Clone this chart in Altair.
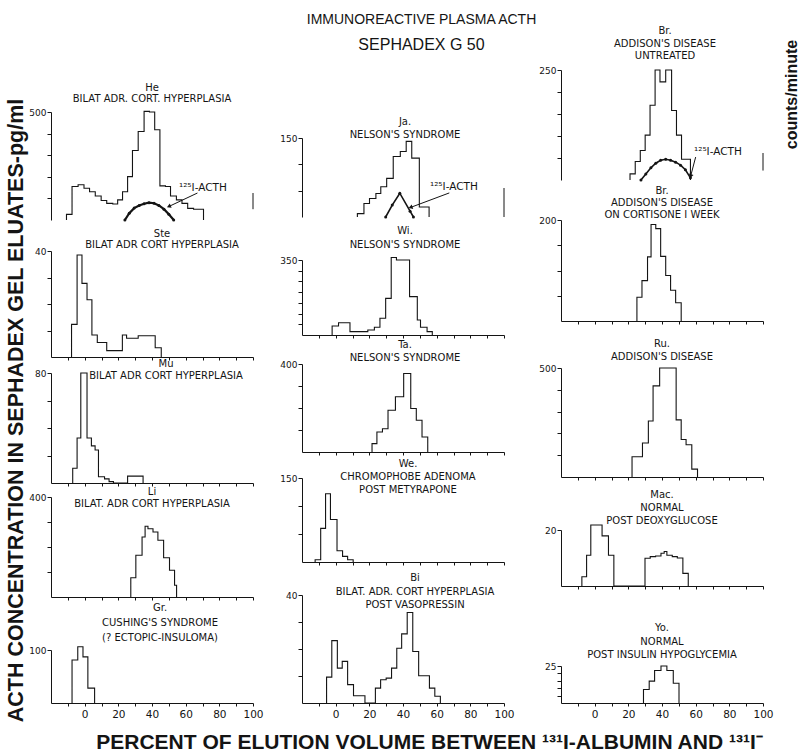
import altair as alt
import pandas as pd

TXT = "DejaVu Sans"
BOLD = "Liberation Sans"
INK = "#141414"
PW = 202          # panel plot width
H = 141           # grid row height (five rows)
XS = alt.Scale(domain=[-20, 100], nice=False, zero=False)
XTICKS = list(range(-10, 101, 10))

# ---------------- data (elution %, concentration) -------------
he_edges = [-10.8, -7.5, -3.9, -0.4, 2.9, 6.3, 9.8, 13.1, 16.7, 19.6, 22.5, 25.5, 28.4,
            31.8, 35.3, 38.5, 41.6, 44.7, 48.0, 51.0, 54.5, 57.8, 61.2, 64.7, 70.6]
he_vals = [26, 155, 163, 147, 131, 111, 90, 77, 74, 93, 131, 201, 322, 410, 503, 500,
           418, 158, 155, 111, 93, 77, 54, 50]
ste_edges = [-7.8, -4.5, -1.6, 1.4, 4.3, 7.5, 13.1, 22.4, 24.9, 31.8, 41.9, 45.5]
ste_vals = [12.3, 38.5, 27.8, 21.6, 8.3, 5.5, 2.4, 8.3, 7.1, 8.0, 3.5]
mu_edges = [-7.1, -4.5, -2.3, 1.4, 4.0, 6.2, 8.2, 11.8, 14.5, 17.1, 25.5, 34.7]
mu_vals = [10.7, 32.7, 80, 32.7, 27, 24, 4.6, 3.0, 1.0, 0, 5.0]
li_edges = [27.4, 30.4, 34.1, 35.9, 37.6, 40.6, 43.5, 46.9, 50.4, 53.4, 54.6]
li_vals = [77, 167, 240, 283, 273, 260, 227, 157, 107, 47]
gr_edges = [-7.5, -4.1, -1.0, 1.9, 5.9]
gr_vals = [81, 106, 87, 28]

ja_edges = [12.9, 16.8, 20.1, 23.9, 26.8, 30.3, 34.2, 38.4, 41.9, 45.2, 49.7, 55.5]
ja_vals = [6.4, 25.5, 35, 44.7, 57.4, 73.4, 115, 124.5, 143.6, 111.7, 19]
wi_edges = [-2.1, 1.7, 8.5, 19.1, 23.0, 26.3, 29.7, 33.0, 36.1, 40.4, 43.9, 48.5, 50.4, 54.3, 57.4]
wi_vals = [42, 57.5, 15.6, 23, 36, 78, 171, 362, 350, 350, 179, 70, 36, 15.6]
ta_edges = [21.6, 24.5, 27.8, 31.1, 35.5, 40.4, 44.6, 47.9, 51.3, 54.7]
ta_vals = [38, 91, 106, 190, 251, 357, 198, 144, 68]
we_edges = [-12.2, -8.9, -6.0, -3.1, 0.8, 4.1, 7.1, 10.4]
we_vals = [4, 60, 122, 76, 20, 10, 4]
bi_edges = [-5.4, -2.3, 1.0, 3.9, 7.1, 10.6, 17.4, 23.6, 26.7, 30.0, 33.2, 36.3, 39.2,
            42.5, 45.8, 49.3, 55.7, 58.9, 62.2]
bi_vals = [9.6, 23.1, 12.9, 15.4, 6.8, 2.7, 0, 5.5, 8.6, 9.2, 12.9, 20.3, 25.6, 33.5,
           19.1, 10.1, 5.5, 2.5]

br_edges = [21.0, 24.1, 27.1, 30.0, 32.9, 35.9, 38.8, 42.2, 45.7, 48.6, 51.6, 56.9]
br_vals = [14, 42, 67, 102, 170, 250, 223, 250, 158, 102, 47]
brc_edges = [25.1, 28.1, 31.4, 33.5, 36.3, 39.2, 42.2, 45.1, 48.1, 51.4]
brc_vals = [47, 80, 127, 191, 183, 128, 90, 61, 36]
ru_edges = [22.2, 28.4, 31.9, 34.7, 38.6, 48.4, 51.4, 54.3, 57.7, 61.1]
ru_vals = [93, 156, 257, 418, 500, 262, 172, 148, 36]
mac_edges = [-7.6, -4.8, -2.3, 4.4, 8.2, 11.4, 29.9, 33.0, 36.2, 39.4, 41.3, 42.9,
             46.1, 49.1, 52.4, 55.6]
mac_vals = [3.3, 11, 21.8, 17.9, 11, 0, 9.9, 10.5, 10.7, 11.7, 12.3, 11, 10.5, 10, 4.5]
yo_edges = [29.0, 32.4, 35.6, 39.4, 42.9, 46.7, 50.1]
yo_vals = [9.1, 14.8, 22, 25, 22, 13.3]

# 125I-ACTH marker curves (counts/minute)
he_acth_x = [23.9, 26.5, 29.4, 32.4, 35.3, 38.2, 41.2, 44.1, 47.1, 50.0, 52.9]
he_acth_y = [0, 25, 44, 54, 60, 64, 62, 54, 40, 21, 0]
ja_acth_x = [29.7, 33.6, 38.1, 44.2, 46.2]
ja_acth_y = [0, 41, 82, 20, 0]
br_acth_x = [27.5, 30.4, 33.4, 36.3, 39.2, 42.2, 45.1, 48.1, 51.0, 53.9, 56.9]
br_acth_y = [0, 22, 45, 62, 73, 77, 73, 66, 55, 38, 8]

ACTH_LABEL = "\u00b9\u00b2\u2075I-ACTH"
Y_TITLE = "ACTH CONCENTRATION IN SEPHADEX GEL ELUATES-pg/ml"
X_TITLE = "PERCENT OF ELUTION VOLUME BETWEEN \u00b9\u00b3\u00b9I-ALBUMIN AND \u00b9\u00b3\u00b9I\u207b"


def step_df(edges, vals):
    xs = [edges[0]] + list(edges)
    ys = [0] + list(vals) + [0]
    return pd.DataFrame({"x": xs, "y": ys, "i": list(range(len(xs)))})


def spacer(w, title=None):
    c = alt.Chart(pd.DataFrame({"s": [0]})).mark_point(opacity=0).encode(
        x=alt.X("s:Q", axis=None), y=alt.Y("s:Q", axis=None))
    if title is not None:
        return c.properties(width=w, height=H, title=title)
    return c.properties(width=w, height=H)


def acth_layer(a, base):
    ss = alt.Scale(domain=[0, 100], range=[base, base - a["px100"]], nice=False, zero=True)
    cdf = pd.DataFrame({"x": a["x"], "y": a["y"]})
    xe = alt.X("x:Q", scale=XS, axis=None)
    curve = alt.Chart(cdf).mark_line(color=INK, strokeWidth=a.get("sw", 1.6)).encode(
        x=xe,
        y=alt.Y("y:Q", scale=ss, axis=alt.Axis(orient="right", values=[100], domain=False,
                                                 tickSize=4, tickColor=INK, labelColor=INK,
                                                 labelFont=TXT, labelFontSize=9, labelPadding=2,
                                                 grid=False, title=None, labelFlush=False)))
    dots = alt.Chart(cdf).mark_circle(color=INK, size=9, opacity=1).encode(
        x=xe, y=alt.Y("y:Q", scale=ss, axis=None))
    rdf = pd.DataFrame({"x": [100], "y": [a["lo"]], "y2": [100]})
    rule = alt.Chart(rdf).mark_rule(color=INK, strokeWidth=1).encode(
        x=xe, y=alt.Y("y:Q", scale=ss, axis=None), y2="y2:Q")
    ldf = pd.DataFrame({"x": [a["lx"]], "y": [a["ly"]], "t": [ACTH_LABEL]})
    lab = alt.Chart(ldf).mark_text(align="left", baseline="middle", font=TXT, fontSize=10.5,
                                   color=INK).encode(
        x=xe, y=alt.Y("y:Q", scale=ss, axis=None), text="t:N")
    adf = pd.DataFrame({"x": [a["ax"]], "y": [a["ay"]], "x2": [a["bx"]], "y2": [a["by"]]})
    arrow = alt.Chart(adf).mark_rule(color=INK, strokeWidth=1).encode(
        x=xe, y=alt.Y("y:Q", scale=ss, axis=None), x2="x2:Q", y2="y2:Q")
    hdf = pd.DataFrame({"x": [a["bx"]], "y": [a["by"]]})
    head = alt.Chart(hdf).mark_point(shape="triangle-up", filled=True, size=22, color=INK,
                                     opacity=1, angle=a["ang"]).encode(
        x=xe, y=alt.Y("y:Q", scale=ss, axis=None))
    return alt.layer(curve, dots, rule, lab, arrow, head)


def panel(p, row):
    y0 = H * row
    base, top = p["base"] - y0, p["top"] - y0
    bottom = p.get("bottom", False)
    ymax = p["ymax"]
    yax = alt.Axis(values=p["ticks"], labelExpr=f"datum.value == {ymax} ? '{ymax}' : ''",
                   tickSize=4, labelFontSize=9, labelPadding=1, grid=False, title=None,
                   domainColor=INK, tickColor=INK, labelColor=INK, labelFont=TXT,
                   labelFlush=False, labelOverlap=False)
    common = dict(values=XTICKS, tickSize=3, grid=False, title=None, domainColor=INK,
                  tickColor=INK, offset=base - H)
    if bottom:
        xax = alt.Axis(labelExpr="datum.value >= 0 && datum.value % 20 == 0 ? datum.label : ''",
                       labelFontSize=10.5, labelPadding=3, labelColor=INK, labelFont=TXT,
                       labelFlush=False, labelOverlap=False, **common)
    else:
        xax = alt.Axis(labels=False, **common)
    hist = alt.Chart(step_df(p["edges"], p["vals"])).mark_line(
        interpolate="step-after", color=INK, strokeWidth=1.1).encode(
        x=alt.X("x:Q", scale=XS, axis=xax),
        y=alt.Y("y:Q", scale=alt.Scale(domain=[0, ymax], range=[base, top], nice=False,
                                       zero=True), axis=yax),
        order="i:Q")
    if "acth" in p:
        ch = alt.layer(hist, acth_layer(p["acth"], base)).resolve_scale(y="independent")
    else:
        ch = hist
    return ch.properties(
        width=PW, height=H,
        title=alt.TitleParams(text=p["title"], fontSize=10, font=TXT, fontWeight="normal",
                              color=INK, anchor="middle", frame="group", offset=p["off"],
                              lineHeight=p.get("lh", 13), dx=p.get("dx", 0)))


# top / base: pixel rows of the top tick and of the baseline of each panel
left = [
    dict(title=["He", "BILAT ADR. CORT. HYPERPLASIA"], edges=he_edges, vals=he_vals, ymax=500,
         ticks=[100, 200, 300, 400, 500], top=112, base=220, off=-104, lh=11,
         acth=dict(x=he_acth_x, y=he_acth_y, px100=27, lo=40, lx=56, ly=117, ax=67, ay=100,
                   bx=50, by=50, ang=246, sw=2.2)),
    dict(title=["Ste", "BILAT ADR CORT HYPERPLASIA"], edges=ste_edges, vals=ste_vals, ymax=40,
         ticks=[10, 20, 30, 40], top=251, base=357, off=-109, lh=11, dx=10),
    dict(title=["Mu", "BILAT ADR CORT HYPERPLASIA"], edges=mu_edges, vals=mu_vals, ymax=80,
         ticks=[20, 40, 60, 80], top=373, base=483, off=-99, lh=12, dx=14),
    dict(title=["Li", "BILAT. ADR CORT HYPERPLASIA"], edges=li_edges, vals=li_vals, ymax=400,
         ticks=[100, 200, 300, 400], top=497, base=597, off=-85.5, lh=12),
    dict(title=["Gr.", "CUSHING'S SYNDROME", "(? ECTOPIC-INSULOMA)"], edges=gr_edges,
         vals=gr_vals, ymax=100, ticks=[100], top=650, base=703, off=-79, lh=15, dx=8,
         bottom=True),
]
middle = [
    dict(title=["Ja.", "NELSON'S SYNDROME"], edges=ja_edges, vals=ja_vals, ymax=150,
         ticks=[50, 100, 150], top=138, base=217, off=-140, dx=2,
         acth=dict(x=ja_acth_x, y=ja_acth_y, px100=29, lo=0, lx=56, ly=103, ax=67.5, ay=83,
                   bx=44.5, by=33, ang=250, sw=1.6)),
    dict(title=["Wi.", "NELSON'S SYNDROME"], edges=wi_edges, vals=wi_vals, ymax=350,
         ticks=[50, 100, 150, 200, 250, 300, 350], top=260, base=335, off=-109, lh=14, dx=2),
    dict(title=["Ta.", "NELSON'S SYNDROME"], edges=ta_edges, vals=ta_vals, ymax=400,
         ticks=[100, 200, 300, 400], top=364, base=452, off=-81, dx=2),
    dict(title=["We.", "CHROMOPHOBE ADENOMA", "POST METYRAPONE"], edges=we_edges,
         vals=we_vals, ymax=150, ticks=[50, 100, 150], top=478, base=562, off=-72, dx=5),
    dict(title=["Bi", "BILAT. ADR. CORT HYPERPLASIA", "POST VASOPRESSIN"], edges=bi_edges,
         vals=bi_vals, ymax=40, ticks=[10, 20, 30, 40], top=595, base=703, off=-46,
         lh=13.5, dx=12, bottom=True),
]
right = [
    dict(title=["Br.", "ADDISON'S DISEASE", "UNTREATED"], edges=br_edges, vals=br_vals,
         ymax=250, ticks=[50, 100, 150, 200, 250], top=70, base=180, off=-61, lh=12.5, dx=3,
         acth=dict(x=br_acth_x, y=br_acth_y, px100=27, lo=35, lx=59, ly=104, ax=60, ay=85,
                   bx=57, by=14, ang=198, sw=1.6)),
    dict(title=["Br.", "ADDISON'S DISEASE", "ON CORTISONE I WEEK"], edges=brc_edges,
         vals=brc_vals, ymax=200, ticks=[50, 100, 150, 200], top=220, base=321, off=-79,
         lh=12),
    dict(title=["Ru.", "ADDISON'S DISEASE"], edges=ru_edges, vals=ru_vals, ymax=500,
         ticks=[100, 200, 300, 400, 500], top=368, base=477, off=-80),
    dict(title=["Mac.", "NORMAL", "POST DEOXYGLUCOSE"], edges=mac_edges, vals=mac_vals,
         ymax=20, ticks=[20], top=530, base=586, off=-103),
    dict(title=["Yo.", "NORMAL", "POST INSULIN HYPOGLYCEMIA"], edges=yo_edges, vals=yo_vals,
         ymax=25, ticks=[5, 10, 15, 20, 25], top=666, base=703, off=-96, lh=13.5,
         bottom=True),
]

LEAD, GAP1, GAP2, TRAIL = 51, 49, 57, 40

main_title = alt.TitleParams(
    text="IMMUNOREACTIVE PLASMA ACTH", subtitle="SEPHADEX G 50", orient="top",
    anchor="middle", frame="group", offset=-53, dx=144, font=BOLD, fontSize=14,
    fontWeight="normal", color=INK, subtitleFont=BOLD, subtitleFontSize=16,
    subtitleColor=INK, subtitlePadding=10)
y_title = alt.TitleParams(
    text=Y_TITLE, orient="left", anchor="middle", frame="group", offset=-27, dx=-58,
    font=BOLD, fontSize=21.5, fontWeight="bold", color=INK)
r_title = alt.TitleParams(
    text="counts/minute", orient="left", anchor="middle", frame="group", offset=-37,
    dx=-24, font=BOLD, fontSize=16, fontWeight="bold", color=INK)
x_title = alt.TitleParams(
    text=X_TITLE, orient="top", anchor="middle", frame="group", offset=-189, dx=152,
    font=BOLD, fontSize=21, fontWeight="bold", color=INK)

cells = []
for r in range(5):
    gap1_title = main_title if r == 0 else (x_title if r == 4 else None)
    cells += [
        spacer(LEAD, y_title if r == 2 else None),
        panel(left[r], r),
        spacer(GAP1, gap1_title),
        panel(middle[r], r),
        spacer(GAP2),
        panel(right[r], r),
        spacer(TRAIL, r_title if r == 0 else None),
    ]

chart = alt.concat(*cells, columns=7, spacing=0, bounds="flush").properties(
    padding={"left": 0, "top": 0, "right": 0, "bottom": 0}
).configure_view(stroke=None).configure_axis(grid=False)

chart.save("out.html", embed_options={"renderer": "svg", "actions": False})
